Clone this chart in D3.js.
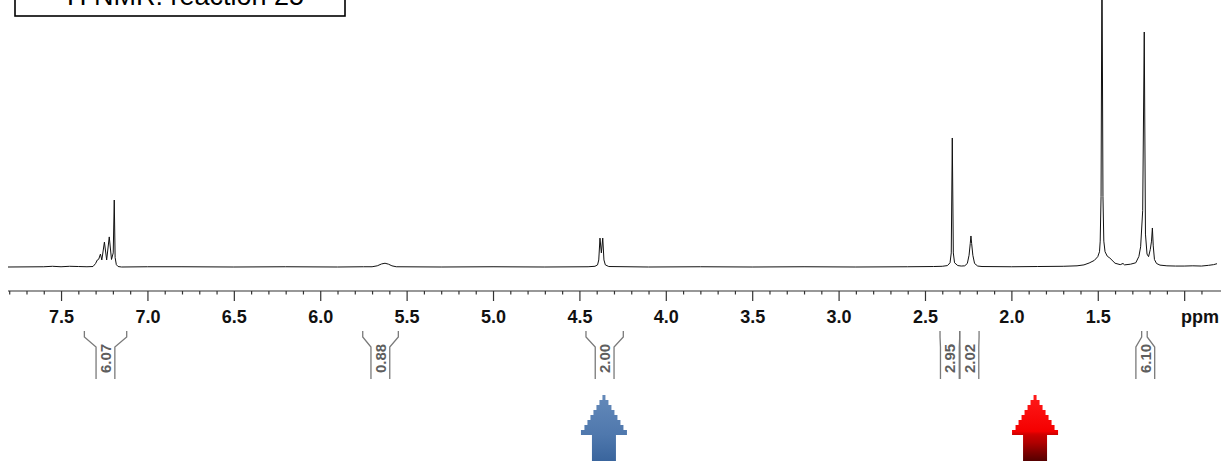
<!DOCTYPE html>
<html><head><meta charset="utf-8">
<script src="https://cdn.jsdelivr.net/npm/d3@7"></script>
<style>html,body{margin:0;padding:0;background:#fff;}svg{display:block;}</style>
</head><body>
<svg id="c" width="1221" height="461"></svg>
<script>
// ---- data ----
const titleText = "\u00B9H NMR: reaction 25";
// spectrum trace: [ppm, relative intensity] (tallest visible peak 1.23 ppm = 100)
const spectrum = [
  [7.807,0],[7.60,0.1],[7.55,0.3],[7.50,0.1],[7.45,0.3],[7.40,0.2],[7.35,0.1],[7.315,0.2],
  [7.300,1.5],[7.290,3.0],[7.282,3.3],[7.272,5.5],[7.264,3.0],[7.249,10.6],[7.236,3.0],
  [7.221,12.8],[7.208,3.2],[7.198,6.0],[7.192,28.5],[7.187,4.0],[7.180,1.0],[7.170,0.2],[7.15,0],
  [7.0,0.1],[6.8,0.1],[6.5,0],[6.2,0.1],[5.9,0],[5.75,0.1],
  [5.70,0.1],[5.67,0.5],[5.645,1.3],[5.625,1.6],[5.605,1.2],[5.585,0.5],[5.56,0.1],
  [5.3,0],[5.0,0.1],[4.7,0],[4.45,0.1],
  [4.41,0.3],[4.395,0.9],[4.388,3.0],[4.381,12.3],[4.373,6.0],[4.365,12.3],[4.358,3.0],[4.350,0.9],[4.33,0.2],
  [4.1,0],[3.8,0.1],[3.5,0],[3.2,0.1],[2.9,0],[2.6,0.1],[2.45,0.2],
  [2.40,0.3],[2.37,0.6],[2.355,1.8],[2.348,6.0],[2.342,54.9],[2.336,6.0],[2.329,1.8],[2.31,0.6],[2.29,0.4],
  [2.27,0.5],[2.255,1.5],[2.245,5.0],[2.238,10.0],[2.234,13.2],[2.230,10.0],[2.223,5.0],[2.213,1.5],[2.195,0.4],[2.17,0.2],
  [2.0,0.1],[1.85,0.2],[1.70,0.3],[1.62,0.5],[1.58,0.9],[1.55,1.7],[1.52,2.8],[1.50,4.4],[1.49,6.5],
  [1.486,11],[1.481,30],[1.4757,135],[1.470,30],[1.465,11],[1.458,6.5],[1.445,4.6],[1.43,3.8],[1.40,1.6],
  [1.37,1.0],[1.354,1.5],[1.345,0.9],[1.31,1.2],[1.28,1.8],[1.262,4.5],[1.252,8.6],[1.240,24],
  [1.231,100],[1.224,14],[1.215,5.5],[1.206,4.4],[1.196,7.5],[1.189,11],[1.184,16.6],[1.179,9],
  [1.172,3.2],[1.16,1.5],[1.14,0.8],[1.10,0.5],[1.05,0.4],[1.00,0.4],[0.95,0.5],[0.90,0.4],[0.86,0.7],[0.83,1.0],[0.81,1.4]
];
// integrals
const integralStart = [7.365, 5.754, 4.462, 2.413, 2.299, 1.246];
const integralEnd   = [7.120, 5.548, 4.246, 2.299, 2.187, 1.214];
const integralValue = ["6.07","0.88","2.00","2.95","2.02","6.10"];
const integralLabelPpm = [7.243, 5.652, 4.354, 2.356, 2.243, 1.225];
// axis ticks
const majorTicks = [7.5,7.0,6.5,6.0,5.5,5.0,4.5,4.0,3.5,3.0,2.5,2.0,1.5,1.0];
const majorLabels = ["7.5","7.0","6.5","6.0","5.5","5.0","4.5","4.0","3.5","3.0","2.5","2.0","1.5",""];
const minorTicks = [7.8,7.7,7.6,7.4,7.3,7.2,7.1,6.9,6.8,6.7,6.6,6.4,6.3,6.2,6.1,5.9,5.8,5.7,5.6,5.4,5.3,5.2,5.1,
  4.9,4.8,4.7,4.6,4.4,4.3,4.2,4.1,3.9,3.8,3.7,3.6,3.4,3.3,3.2,3.1,2.9,2.8,2.7,2.6,2.4,2.3,2.2,2.1,
  1.9,1.8,1.7,1.6,1.4,1.3,1.2,1.1,0.9];
const unitLabel = "ppm";
// arrows (ppm position)
const arrowPpm = [4.358, 1.863];
const arrowNames = ["blue","red"];

// ---- drawing ----
const svg = d3.select("#c");
const x = d3.scaleLinear().domain([7.807, 0.81]).range([8, 1217]);
const y = d3.scaleLinear().domain([0, 100]).range([267, 32]);

// title box (partially cut at top)
svg.append("rect").attr("x",15).attr("y",-30).attr("width",330).attr("height",46)
  .attr("fill","#fff").attr("stroke","#000").attr("stroke-width",1.6);
svg.append("text").attr("x",181).attr("y",4.5).attr("text-anchor","middle")
  .attr("font-family","Liberation Sans, Arial, sans-serif").attr("font-size",27).attr("fill","#000")
  .text(titleText);

// spectrum
const line = d3.line().x(d=>x(d[0])).y(d=>y(d[1]));
svg.append("path").datum(spectrum).attr("d",line)
  .attr("fill","none").attr("stroke","#111").attr("stroke-width",1).attr("stroke-linejoin","round");

// axis
const axisY = 291;
const axis = d3.axisBottom(x).tickValues(majorTicks).tickSize(10)
  .tickFormat((d,i)=>majorLabels[i]).tickSizeOuter(0);
const ag = svg.append("g").attr("transform",`translate(0,${axisY})`).call(axis);
ag.select(".domain").attr("stroke","#333").attr("stroke-width",1.2).attr("d","M8,0H1221");
ag.selectAll(".tick line").attr("stroke","#333").attr("stroke-width",1.2);
ag.selectAll(".tick text").attr("font-family","Liberation Sans, Arial, sans-serif")
  .attr("font-weight","bold").attr("font-size",18).attr("fill","#111").attr("dy",0).attr("y",32);
const minorAxis = d3.axisBottom(x).tickValues(minorTicks).tickSize(3.5).tickFormat("").tickSizeOuter(0);
const mg = svg.append("g").attr("transform",`translate(0,${axisY})`).call(minorAxis);
mg.select(".domain").remove();
mg.selectAll(".tick line").attr("stroke","#333").attr("stroke-width",1.2);
svg.append("text").attr("x",1219).attr("y",axisY+32).attr("text-anchor","end")
  .attr("font-family","Liberation Sans, Arial, sans-serif").attr("font-weight","bold")
  .attr("font-size",18).attr("fill","#111").text(unitLabel);

// integrals
const gi = svg.append("g");
const half = 9.4;
integralValue.forEach((v,i)=>{
  const x1 = x(integralStart[i]), x2 = x(integralEnd[i]);
  const c = x(integralLabelPpm[i]);
  const pts = (xa, xb) => `M${xa},331V337L${xb},347V379`;
  gi.append("path").attr("d",pts(x1, c-half)).attr("fill","none").attr("stroke","#7a7a7a").attr("stroke-width",1.3);
  gi.append("path").attr("d",pts(x2, c+half)).attr("fill","none").attr("stroke","#7a7a7a").attr("stroke-width",1.3);
  gi.append("text").attr("transform",`translate(${c+5.5},358.5) rotate(-90)`).attr("text-anchor","middle")
    .attr("font-family","Liberation Sans, Arial, sans-serif").attr("font-weight","bold")
    .attr("font-size",15).attr("fill","#5e5e5e").text(v);
});

// arrows
const defs = svg.append("defs");
const gb = defs.append("linearGradient").attr("id","gblue").attr("gradientUnits","userSpaceOnUse")
  .attr("x1",0).attr("y1",395).attr("x2",0).attr("y2",461);
gb.append("stop").attr("offset","0%").attr("stop-color","#6489b9");
gb.append("stop").attr("offset","60%").attr("stop-color","#4f78ad");
gb.append("stop").attr("offset","100%").attr("stop-color","#3a659d");
const gr = defs.append("linearGradient").attr("id","gred").attr("gradientUnits","userSpaceOnUse")
  .attr("x1",0).attr("y1",395).attr("x2",0).attr("y2",461);
[["0%","#ff1a1a"],["55%","#f40000"],["59%","#d40000"],["62%","#c80000"],["72%","#b00000"],
 ["80%","#950000"],["88%","#7a0000"],["100%","#550000"]].forEach(s=>
  gr.append("stop").attr("offset",s[0]).attr("stop-color",s[1]));
const steps = [1.5,4.5,7.5,10.5,13.5,16.5,19.5,23];
function arrowPath(cx){
  const top = 395, sh = 5, shaft = 12, bottom = 470;
  let p = `M${cx-steps[0]},${top}`;
  const right = [];
  steps.forEach((w,i)=>{ right.push([cx+w, top+i*sh],[cx+w, top+(i+1)*sh]); });
  right.forEach(q=>p+=`L${q[0]},${q[1]}`);
  const hb = top+steps.length*sh;
  p += `L${cx+shaft},${hb}L${cx+shaft},${bottom}L${cx-shaft},${bottom}L${cx-shaft},${hb}`;
  for(let i=steps.length-1;i>=0;i--){ p+=`L${cx-steps[i]},${top+(i+1)*sh}L${cx-steps[i]},${top+i*sh}`; }
  return p+"Z";
}
arrowPpm.forEach((pp,i)=>{
  svg.append("path").attr("d",arrowPath(x(pp))).attr("fill", arrowNames[i]==="blue"?"url(#gblue)":"url(#gred)");
});
</script>
</body></html>
